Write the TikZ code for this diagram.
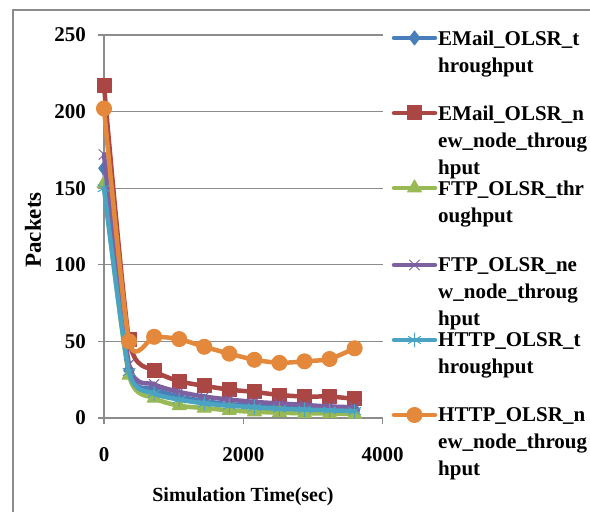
\documentclass[tikz,border=0pt]{standalone}
\usepackage{fontspec}
\setmainfont{Liberation Serif}
\usepackage{xcolor}
\usepackage{tikz}
\usetikzlibrary{positioning,plotmarks}

\definecolor{emailblue}{HTML}{4A7EBB}
\definecolor{emailred}{HTML}{AA4644}
\definecolor{ftpgreen}{HTML}{98B954}
\definecolor{ftppurple}{HTML}{7D60A0}
\definecolor{httpteal}{HTML}{4AA3C0}
\definecolor{httporange}{HTML}{E4893C}
\definecolor{gridgray}{HTML}{8C8C8C}

\begin{document}
\begin{tikzpicture}[x=1pt,y=1pt]
            \tikzstyle{gridline}=[draw=gridgray, line width=1.2pt]
            \tikzstyle{ticklabel}=[font=\fontsize{21}{25}\selectfont\bfseries, inner sep=0pt]
            \tikzstyle{legendtext}=[font=\fontsize{21}{27}\selectfont\bfseries, align=left, inner sep=0pt, anchor=north west]
            \tikzstyle{series}=[line width=4.5pt, line join=round, line cap=round]
            \tikzstyle{emailline}=[series, draw=emailblue, mark options={fill=emailblue, line width=1pt, mark size=7pt}]
            \tikzstyle{emailnewline}=[series, draw=emailred, mark options={fill=emailred, line width=1pt, mark size=7pt}]
            \tikzstyle{ftpline}=[series, draw=ftpgreen, mark options={fill=ftpgreen, line width=1pt, mark size=8pt}]
            \tikzstyle{ftpnewline}=[series, draw=ftppurple, mark options={line width=1pt, mark size=7pt}]
            \tikzstyle{httpline}=[series, draw=httpteal, mark options={line width=1pt, mark size=7pt}]
            \tikzstyle{httpnewline}=[series, draw=httporange, mark options={fill=httporange, line width=1pt, mark size=7.5pt}]

            \useasboundingbox (0,0) rectangle (590,512);
            \fill[white] (0,0) rectangle (590,512);
            \draw[gridgray, line width=2pt] (13,0) -- (13,502) -- (590,502);

            % plot area: 0 s at 104px, 4000 s at 382.5px; 0 at 94, 250 at 477
            \begin{scope}[shift={(104,94)}, x=0.069625pt, y=1.532pt]
              \foreach \v in {50,100,...,250}
                \draw[gridline] (0,\v) -- (4000,\v);
              \draw[gridline] (0,0) -- (0,250);
              \draw[gridline] (0,0) -- (4000,0);
              \foreach \v in {0,50,...,250} {
                \draw[gridline] (0,\v) -- ++(-6pt,0);
                \node[ticklabel, anchor=east, xshift=-18pt] (y\v) at (0,\v) {\v};
              }
              \foreach \t in {0,2000,4000} {
                \draw[gridline] (\t,0) -- ++(0,-6pt);
                \node[ticklabel, yshift=-37pt] (x\t) at (\t,0) {\t};
              }

              \draw[emailline] plot[smooth, tension=0.4, mark=diamond*] coordinates {
                (0,163) (360,31) (720,19) (1080,14) (1440,11) (1800,9)
                (2160,8) (2520,7) (2880,6.5) (3240,6) (3600,5.5)};
              \draw[emailnewline] plot[smooth, tension=0.4, mark=square*] coordinates {
                (0,217) (360,51) (720,31) (1080,24) (1440,21) (1800,18.5)
                (2160,17) (2520,15) (2880,14) (3240,14) (3600,12.5)};
              \draw[ftpline] plot[smooth, tension=0.4, mark=triangle*] coordinates {
                (0,153) (360,28) (720,13) (1080,8) (1440,6.5) (1800,5)
                (2160,4) (2520,3.5) (2880,3) (3240,3) (3600,2.5)};
              \draw[ftpnewline] plot[smooth, tension=0.4, mark=x] coordinates {
                (0,172) (360,35) (720,22) (1080,17) (1440,14) (1800,12)
                (2160,10.5) (2520,9.5) (2880,8.5) (3240,7.5) (3600,7)};
              \draw[httpline] plot[smooth, tension=0.4, mark=asterisk] coordinates {
                (0,150) (360,30) (720,16) (1080,12) (1440,9.5) (1800,8)
                (2160,7) (2520,6) (2880,5.5) (3240,5) (3600,4.5)};
              \draw[httpnewline] plot[smooth, tension=0.4, mark=*] coordinates {
                (0,202) (360,50) (720,53) (1080,51.5) (1440,46.5) (1800,42)
                (2160,38) (2520,36) (2880,37) (3240,38.5) (3600,45.5)};
            \end{scope}

            % axis titles
            \node[font=\fontsize{20}{24}\selectfont\bfseries, inner sep=0pt] (xtitle) at (243,15) {Simulation Time(sec)};
            \node[font=\fontsize{23}{27}\selectfont\bfseries, inner sep=0pt, rotate=90] (ytitle) at (33,282) {Packets};

            % legend
            \draw[emailline] plot[mark=diamond*, mark indices={2}] coordinates {(394,474) (414.5,474) (435,474)};
            \node[legendtext] (lemail) at (438,481.5) {EMail\_OLSR\_t\\hroughput};
            \draw[emailnewline] plot[mark=square*, mark indices={2}] coordinates {(394,399) (414.5,399) (435,399)};
            \node[legendtext] (lemailnew) at (438,406.5) {EMail\_OLSR\_n\\ew\_node\_throug\\hput};
            \draw[ftpline] plot[mark=triangle*, mark indices={2}] coordinates {(394,324) (414.5,324) (435,324)};
            \node[legendtext] (lftp) at (438,331.5) {FTP\_OLSR\_thr\\oughput};
            \draw[ftpnewline] plot[mark=x, mark indices={2}] coordinates {(394,247) (414.5,247) (435,247)};
            \node[legendtext] (lftpnew) at (438,254.5) {FTP\_OLSR\_ne\\w\_node\_throug\\hput};
            \draw[httpline] plot[mark=asterisk, mark indices={2}] coordinates {(394,172) (414.5,172) (435,172)};
            \node[legendtext] (lhttp) at (438,179.5) {HTTP\_OLSR\_t\\hroughput};
            \draw[httpnewline] plot[mark=*, mark indices={2}] coordinates {(394,97) (414.5,97) (435,97)};
            \node[legendtext] (lhttpnew) at (438,104.5) {HTTP\_OLSR\_n\\ew\_node\_throug\\hput};
        \end{tikzpicture}
\end{document}
